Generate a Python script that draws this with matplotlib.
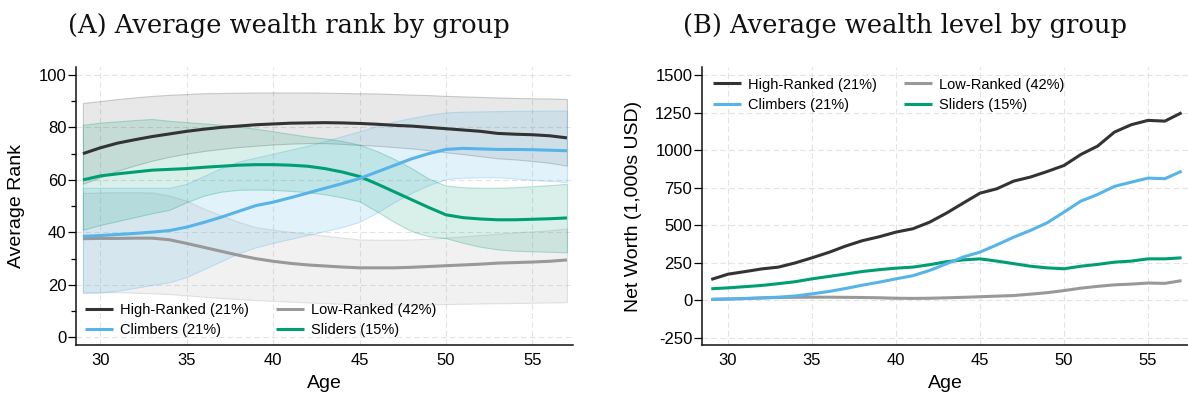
import matplotlib
matplotlib.use("Agg")
import matplotlib.pyplot as plt
from matplotlib.ticker import MultipleLocator
from matplotlib.colors import to_rgba

ages = list(range(29, 58))

# ---------- Panel A: average wealth rank ----------
high_rank = [70, 72.2, 74, 75.3, 76.5, 77.5, 78.5, 79.3, 80, 80.5, 81, 81.3, 81.6, 81.7, 81.8,
             81.7, 81.5, 81.2, 80.8, 80.5, 80, 79.5, 79, 78.5, 77.7, 77.4, 77.2, 76.8, 76]
high_rank_lo = [58.5, 61, 63.5, 65.5, 67.3, 68.8, 70, 71, 71.8, 72.5, 73, 73.5, 73.8, 74, 74,
                73.7, 73.3, 73, 72.5, 72, 71.3, 70.5, 69.8, 69, 68.2, 67.8, 67.2, 66.5, 65.4]
high_rank_hi = [89.3, 90, 90.8, 91.4, 92, 92.4, 92.7, 93, 93.1, 93.2, 93.3, 93.3, 93.3, 93.3, 93.2,
                93.1, 93, 92.9, 92.7, 92.5, 92.3, 92, 91.8, 91.6, 91.4, 91.2, 91.1, 91, 90.8]

climb_rank = [38.5, 38.8, 39.2, 39.6, 40.1, 40.7, 42, 43.8, 45.8, 48, 50.2, 51.5, 53.2, 55, 56.8,
              58.6, 60.5, 63, 65.5, 68, 70, 71.6, 72, 71.8, 71.6, 71.6, 71.5, 71.3, 71.1]
climb_rank_lo = [16.9, 17, 17.8, 18.8, 20, 21, 23, 26, 29, 32, 34.3, 36, 37.5, 39, 40.5,
                 42, 44, 47.5, 51.5, 55, 58, 60.3, 60.8, 61, 61, 60.5, 60, 59.6, 59.2]
climb_rank_hi = [57, 57, 57, 57, 57, 57, 58.5, 61.5, 64.5, 67, 68.5, 70, 71.5, 73, 74.8,
                 76.7, 78.5, 80.5, 82.2, 83.6, 84.8, 85.7, 86, 86.1, 86.2, 86.3, 86.3, 86.4, 86.4]

low_rank = [37.6, 37.7, 37.7, 37.8, 37.8, 37.2, 35.8, 34.3, 32.8, 31.3, 30, 29, 28.2, 27.6, 27.2,
            26.8, 26.5, 26.5, 26.5, 26.7, 27, 27.3, 27.6, 27.9, 28.3, 28.5, 28.7, 29, 29.5]
low_rank_lo = [17.3, 17.3, 17.2, 17, 16.8, 16.5, 16, 15.5, 15, 14.6, 14.2, 13.9, 13.6, 13.3, 13,
               12.8, 12.6, 12.5, 12.5, 12.5, 12.6, 12.7, 12.8, 12.9, 13, 13.1, 13.2, 13.3, 13.4]
low_rank_hi = [55, 55.2, 55.3, 55.3, 55.2, 54, 52, 49, 46.5, 44, 42, 41, 40.2, 39.5, 38.8,
               38, 37.3, 37.2, 37.2, 37.3, 37.6, 38, 38.5, 39, 39.5, 40, 40.4, 40.8, 41.5]

slide_rank = [60, 61.5, 62.3, 63, 63.7, 64, 64.3, 64.8, 65.2, 65.6, 65.8, 65.8, 65.6, 65.2, 64.3,
              63, 61.3, 58.5, 55.5, 52.5, 49.5, 46.7, 45.6, 45.1, 44.8, 44.8, 45, 45.2, 45.5]
slide_rank_lo = [41, 42.8, 44.3, 45.8, 47.3, 48.6, 51.5, 54, 55.5, 56.2, 56.3, 56.2, 55.8, 55.3, 54.5,
                 53.3, 51.8, 48, 44, 40.5, 38.5, 37.8, 36, 34.5, 33.5, 33, 32.8, 32.6, 32.4]
slide_rank_hi = [81, 81.8, 82.3, 82.8, 83.2, 82.5, 82, 81.5, 81, 80.3, 79.5, 78.5, 77.5, 76.5, 75.8,
                 74.8, 73.4, 71, 68, 64.5, 60.5, 57.8, 57.2, 57, 57, 57.2, 57.6, 58, 58.5]

# ---------- Panel B: average net worth (1,000s USD) ----------
high_nw = [140, 175, 192, 210, 222, 250, 284, 320, 362, 398, 424, 455, 477, 521, 581,
           648, 714, 743, 794, 821, 858, 898, 971, 1027, 1120, 1169, 1198, 1193, 1249]
climb_nw = [7, 10, 13, 17, 22, 30, 44, 60, 80, 102, 122, 144, 165, 200, 244,
            289, 322, 370, 421, 466, 517, 588, 661, 705, 759, 787, 814, 810, 860]
low_nw = [8, 10, 13, 17, 20, 21, 22, 22, 21, 20, 18, 15, 14, 15, 18,
          21, 25, 29, 33, 42, 52, 66, 82, 94, 104, 109, 116, 114, 132]
slide_nw = [78, 84, 92, 100, 112, 125, 144, 160, 176, 193, 205, 215, 222, 238, 258,
            270, 277, 262, 245, 228, 217, 211, 228, 240, 255, 262, 277, 277, 284]

labels = ["High-Ranked (21%)", "Climbers (21%)", "Low-Ranked (42%)", "Sliders (15%)"]
colors = ["#333333", "#56B4E9", "#999999", "#009E73"]
titles = ["(A) Average wealth rank by group", "(B) Average wealth level by group"]

SANS = ["Liberation Sans", "DejaVu Sans"]
SERIF = ["DejaVu Serif", "Liberation Serif"]
plt.rcParams["font.family"] = SANS
plt.rcParams["axes.unicode_minus"] = False

W, H = 1188, 397
fig = plt.figure(figsize=(W / 100, H / 100), dpi=100)
axA = fig.add_axes([76 / W, 1 - 345 / H, 497 / W, 278 / H])
axB = fig.add_axes([702 / W, 1 - 345 / H, 486 / W, 278 / H])


def style(ax):
    for s in ["top", "right"]:
        ax.spines[s].set_visible(False)
    for s in ["left", "bottom"]:
        ax.spines[s].set_linewidth(1.1)
        ax.spines[s].set_color("#111111")
    ax.grid(True, which="major", color="#e3e3e3", linestyle=(0, (5, 3)), linewidth=0.8)
    ax.set_axisbelow(True)
    ax.tick_params(axis="x", which="both", length=0, pad=6, labelsize=12)
    ax.tick_params(axis="y", which="major", length=5.5, width=0.9, pad=1.5, labelsize=12, direction="out")
    ax.tick_params(axis="y", which="minor", length=3.6, width=0.9, direction="out")
    ax.set_xticks([30, 35, 40, 45, 50, 55])


LEG = dict(ncol=2, loc="upper left", frameon=False, fontsize=10.5, borderpad=0,
           borderaxespad=0, handlelength=1.9, handletextpad=0.5, columnspacing=1.85,
           labelspacing=0.42)

# Panel A
bands = [
    (high_rank_lo, high_rank_hi, colors[0], 0.11),
    (low_rank_lo, low_rank_hi, colors[2], 0.13),
    (climb_rank_lo, climb_rank_hi, colors[1], 0.17),
    (slide_rank_lo, slide_rank_hi, colors[3], 0.15),
]
for lo, hi, c, a in bands:
    axA.fill_between(ages, lo, hi, facecolor=to_rgba(c, a), edgecolor=to_rgba(c, min(1, a + 0.12)),
                     linewidth=0.8)
lines_A = {}
for series, c, lab in [(low_rank, colors[2], labels[2]), (slide_rank, colors[3], labels[3]),
                       (climb_rank, colors[1], labels[1]), (high_rank, colors[0], labels[0])]:
    lines_A[lab], = axA.plot(ages, series, color=c, lw=2.2, label=lab, solid_capstyle="butt")
style(axA)
axA.set_xlim(28.6, 57.35)
axA.set_ylim(-2.9, 103)
axA.yaxis.set_major_locator(MultipleLocator(20))
axA.yaxis.set_minor_locator(MultipleLocator(10))
axA.set_ylabel("Average Rank", fontsize=14)
axA.set_xlabel("Age", fontsize=14)
axA.yaxis.set_label_coords((25 - 76) / 497, 0.5)
axA.xaxis.set_label_coords(0.5, (345 - 375) / 278)
axA.legend([lines_A[l] for l in labels], labels, bbox_to_anchor=(0.018, 0.15), **LEG)

# Panel B
lines_B = {}
for series, c, lab in [(low_nw, colors[2], labels[2]), (slide_nw, colors[3], labels[3]),
                       (climb_nw, colors[1], labels[1]), (high_nw, colors[0], labels[0])]:
    lines_B[lab], = axB.plot(ages, series, color=c, lw=2.2, label=lab, solid_capstyle="butt")
style(axB)
axB.set_xlim(28.45, 57.38)
axB.set_ylim(-296, 1553)
axB.set_yticks([-250, 0, 250, 500, 750, 1000, 1250, 1500])
axB.set_ylabel("Net Worth (1,000s USD)", fontsize=14)
axB.set_xlabel("Age", fontsize=14)
axB.yaxis.set_label_coords((641.7 - 702) / 486, 0.5)
axB.xaxis.set_label_coords(0.5, (345 - 375) / 278)
axB.legend([lines_B[l] for l in labels], labels, bbox_to_anchor=(0.0226, 0.962), **LEG)

fig.text(289 / W, 1 - 32.5 / H, titles[0], ha="center", va="baseline", fontsize=18.5,
         family=SERIF, color="#111111")
fig.text(905 / W, 1 - 32.5 / H, titles[1], ha="center", va="baseline", fontsize=18.5,
         family=SERIF, color="#111111")

fig.savefig("out.png", dpi=100)
